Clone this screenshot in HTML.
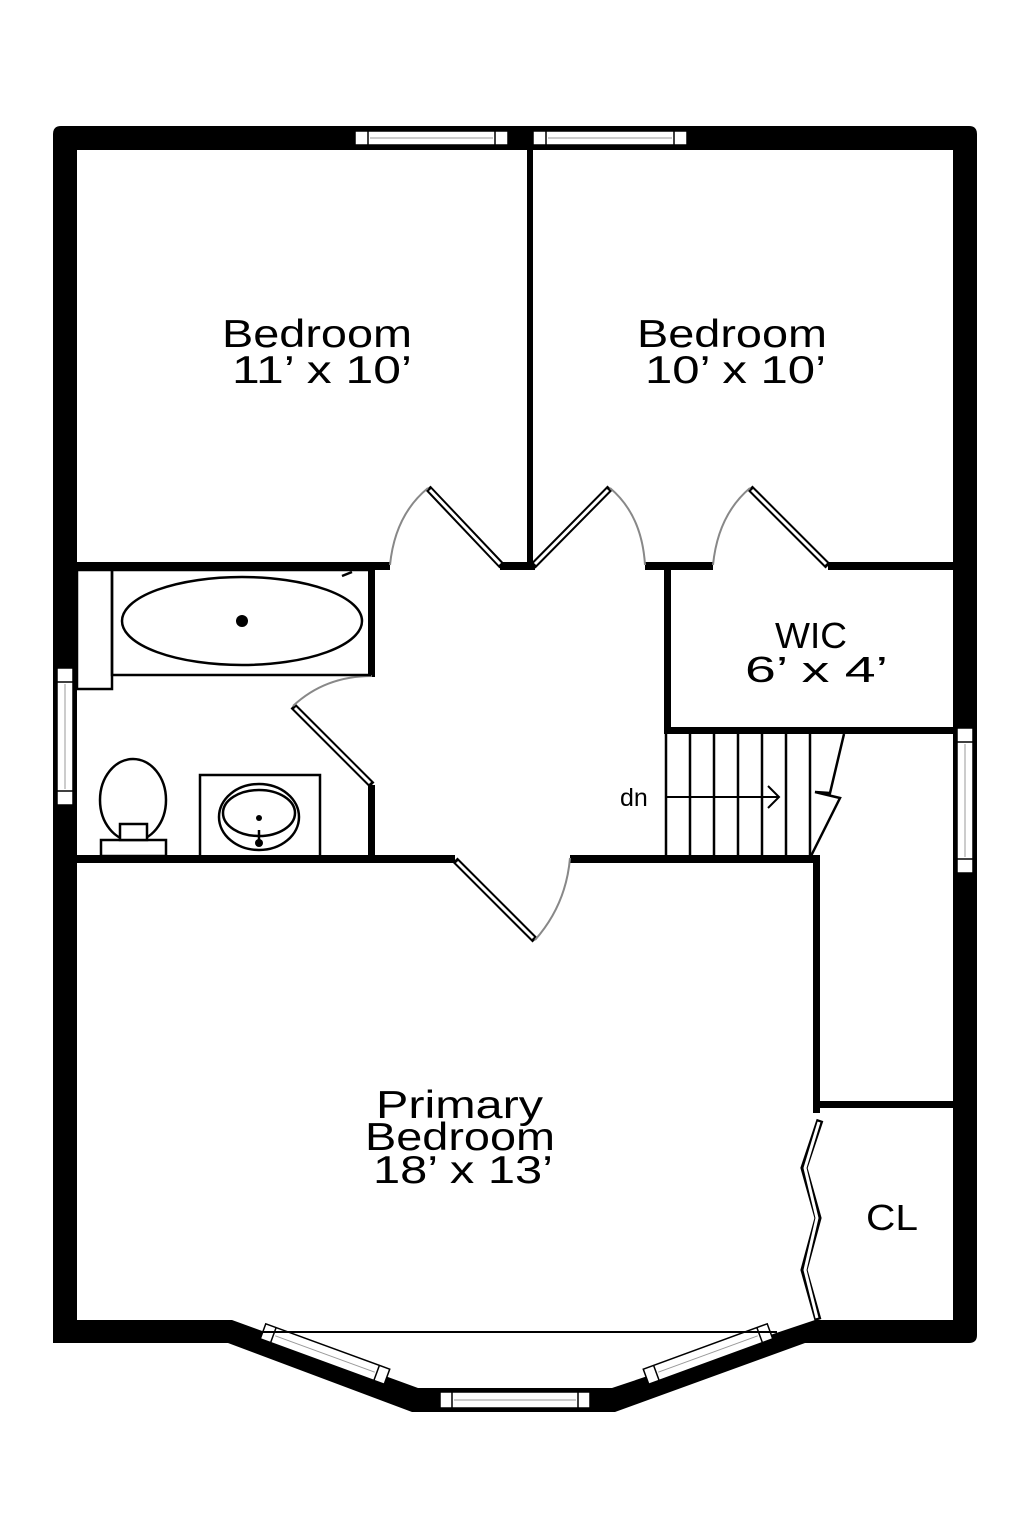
<!DOCTYPE html>
<html><head><meta charset="utf-8"><style>
html,body{margin:0;padding:0;background:#fff;width:1024px;height:1536px;overflow:hidden}
svg{display:block}
text{font-family:"Liberation Sans","DejaVu Sans",sans-serif;fill:#000}
</style></head><body>
<svg width="1024" height="1536" viewBox="0 0 1024 1536" xmlns="http://www.w3.org/2000/svg">
<rect width="1024" height="1536" fill="#fff"/>
<path d="M53,1343 L53,134 Q53,126 61,126 L969,126 Q977,126 977,134 L977,1335 Q977,1343 969,1343 L805,1343 L615,1412 L412,1412 L228,1343 Z
M77,150 L77,1320 L232,1320 L418,1388 L612,1388 L815,1320 L953,1320 L953,150 Z" fill="#000" fill-rule="evenodd"/>
<g fill="#fff" stroke="#000" stroke-width="1.5">
<rect x="355" y="131" width="153" height="14"/>
<rect x="533" y="131" width="154" height="14"/>
<rect x="57" y="668" width="16" height="137"/>
<rect x="957" y="728" width="16" height="145"/>
</g>
<g stroke="#000" stroke-width="1.5" fill="none">
<line x1="368" y1="131" x2="368" y2="145"/><line x1="495" y1="131" x2="495" y2="145"/>
<line x1="546" y1="131" x2="546" y2="145"/><line x1="674" y1="131" x2="674" y2="145"/>
<line x1="57" y1="682" x2="73" y2="682"/><line x1="57" y1="791" x2="73" y2="791"/>
<line x1="957" y1="742" x2="973" y2="742"/><line x1="957" y1="859" x2="973" y2="859"/>
</g>
<g stroke="#999" stroke-width="1">
<line x1="370" y1="138" x2="493" y2="138"/><line x1="548" y1="138" x2="672" y2="138"/>
<line x1="65" y1="684" x2="65" y2="789"/><line x1="965" y1="744" x2="965" y2="857"/>
</g>
<g transform="translate(325,1354) rotate(20.1)"><rect x="-66" y="-8" width="132" height="16" fill="#fff" stroke="#000" stroke-width="1.5"/><line x1="-55" y1="-8" x2="-55" y2="8" stroke="#000" stroke-width="1.5"/><line x1="55" y1="-8" x2="55" y2="8" stroke="#000" stroke-width="1.5"/><line x1="-53" y1="0" x2="53" y2="0" stroke="#999"/></g>
<g transform="translate(708,1354) rotate(-20.1)"><rect x="-66" y="-8" width="132" height="16" fill="#fff" stroke="#000" stroke-width="1.5"/><line x1="-55" y1="-8" x2="-55" y2="8" stroke="#000" stroke-width="1.5"/><line x1="55" y1="-8" x2="55" y2="8" stroke="#000" stroke-width="1.5"/><line x1="-53" y1="0" x2="53" y2="0" stroke="#999"/></g>
<g><rect x="440" y="1392" width="150" height="16" fill="#fff" stroke="#000" stroke-width="1.5"/><line x1="452" y1="1392" x2="452" y2="1408" stroke="#000" stroke-width="1.5"/><line x1="578" y1="1392" x2="578" y2="1408" stroke="#000" stroke-width="1.5"/><line x1="454" y1="1400" x2="576" y2="1400" stroke="#999"/></g>
<line x1="262" y1="1332" x2="777" y2="1332" stroke="#000" stroke-width="2"/>
<g fill="#000">
<rect x="527" y="148" width="6" height="420"/>
<rect x="77" y="562" width="313" height="8"/>
<rect x="500" y="562" width="35" height="8"/>
<rect x="645" y="562" width="68" height="8"/>
<rect x="828" y="562" width="125" height="8"/>
<rect x="664" y="565" width="7" height="168"/>
<rect x="664" y="727" width="289" height="7"/>
<rect x="368" y="565" width="7" height="112"/>
<rect x="368" y="785" width="7" height="75"/>
<rect x="77" y="855" width="378" height="8"/>
<rect x="570" y="855" width="250" height="8"/>
<rect x="813" y="858" width="7" height="255"/>
<rect x="818" y="1101" width="135" height="7"/>
</g>
<g fill="none" stroke-linecap="butt">
<g stroke="#000" stroke-width="7">
<line x1="502" y1="566" x2="428" y2="488"/>
<line x1="533" y1="566" x2="610" y2="488"/>
<line x1="828" y1="566" x2="750" y2="488"/>
<line x1="372" y1="785" x2="293" y2="706"/>
<line x1="455" y1="860" x2="535" y2="940"/>
<polyline points="820,1120 804,1168 818,1218 804,1270 818,1320"/>
</g>
<g stroke="#fff" stroke-width="3">
<line x1="500" y1="564" x2="430" y2="490"/>
<line x1="535" y1="564" x2="608" y2="490"/>
<line x1="826" y1="564" x2="752" y2="490"/>
<line x1="370" y1="783" x2="295" y2="708"/>
<line x1="457" y1="862" x2="533" y2="938"/>
<polyline points="819,1122 805,1168 817,1218 805,1270 817,1318"/>
</g>
<g stroke="#888" stroke-width="2">
<path d="M428,488 Q395,515 390,565"/>
<path d="M610,488 Q642,515 645,565"/>
<path d="M750,488 Q718,515 713,565"/>
<path d="M372,676 Q325,676 293,706"/>
<path d="M535,940 Q566,905 570,858"/>
</g>
</g>
<g fill="none" stroke="#000" stroke-width="2.5">
<rect x="112" y="570" width="258" height="105"/>
<rect x="77" y="570" width="35" height="119"/>
<ellipse cx="242" cy="621" rx="120" ry="44"/>
<ellipse cx="133" cy="800" rx="33" ry="41"/>
<rect x="101" y="840" width="65" height="16" fill="#fff"/>
<rect x="120" y="824" width="27" height="16" fill="#fff"/>
<rect x="200" y="775" width="120" height="82"/>
<ellipse cx="259" cy="817" rx="40" ry="33"/>
<ellipse cx="259" cy="813" rx="36" ry="23"/>
<line x1="259" y1="830" x2="259" y2="842"/>
<line x1="342" y1="576" x2="352" y2="572"/>
</g>
<circle cx="242" cy="621" r="6" fill="#000"/>
<circle cx="259" cy="818" r="3" fill="#000"/>
<circle cx="259" cy="843" r="4" fill="#000"/>
<g stroke="#000" stroke-width="2.5" fill="none">
<line x1="666" y1="734" x2="666" y2="856"/>
<line x1="690" y1="734" x2="690" y2="856"/>
<line x1="714" y1="734" x2="714" y2="856"/>
<line x1="738" y1="734" x2="738" y2="856"/>
<line x1="762" y1="734" x2="762" y2="856"/>
<line x1="786" y1="734" x2="786" y2="856"/>
<line x1="810" y1="734" x2="810" y2="856"/>
<polyline points="844,734 830,793 815,792 840,798 810,858"/>
<line x1="667" y1="797" x2="779" y2="797" stroke-width="2"/>
<polyline points="768,786 779,797 768,808" stroke-width="2"/>
</g>
<g font-size="39" lengthAdjust="spacingAndGlyphs">
<text x="222" y="347" textLength="190" lengthAdjust="spacingAndGlyphs">Bedroom</text>
<text x="232" y="383" textLength="180" lengthAdjust="spacingAndGlyphs">11’ x 10’</text>
<text x="637" y="347" textLength="190" lengthAdjust="spacingAndGlyphs">Bedroom</text>
<text x="645" y="383" textLength="181" lengthAdjust="spacingAndGlyphs">10’ x 10’</text>
<text x="775" y="648" font-size="36" textLength="72" lengthAdjust="spacingAndGlyphs">WIC</text>
<text x="745" y="682" font-size="36" textLength="143" lengthAdjust="spacingAndGlyphs">6’ x 4’</text>
<text x="376" y="1118" textLength="167" lengthAdjust="spacingAndGlyphs">Primary</text>
<text x="365" y="1150" textLength="190" lengthAdjust="spacingAndGlyphs">Bedroom</text>
<text x="373" y="1183" textLength="180" lengthAdjust="spacingAndGlyphs">18’ x 13’</text>
<text x="866" y="1230" font-size="36" textLength="52" lengthAdjust="spacingAndGlyphs">CL</text>
<text x="620" y="806" font-size="25">dn</text>
</g>
</svg>
</body></html>
